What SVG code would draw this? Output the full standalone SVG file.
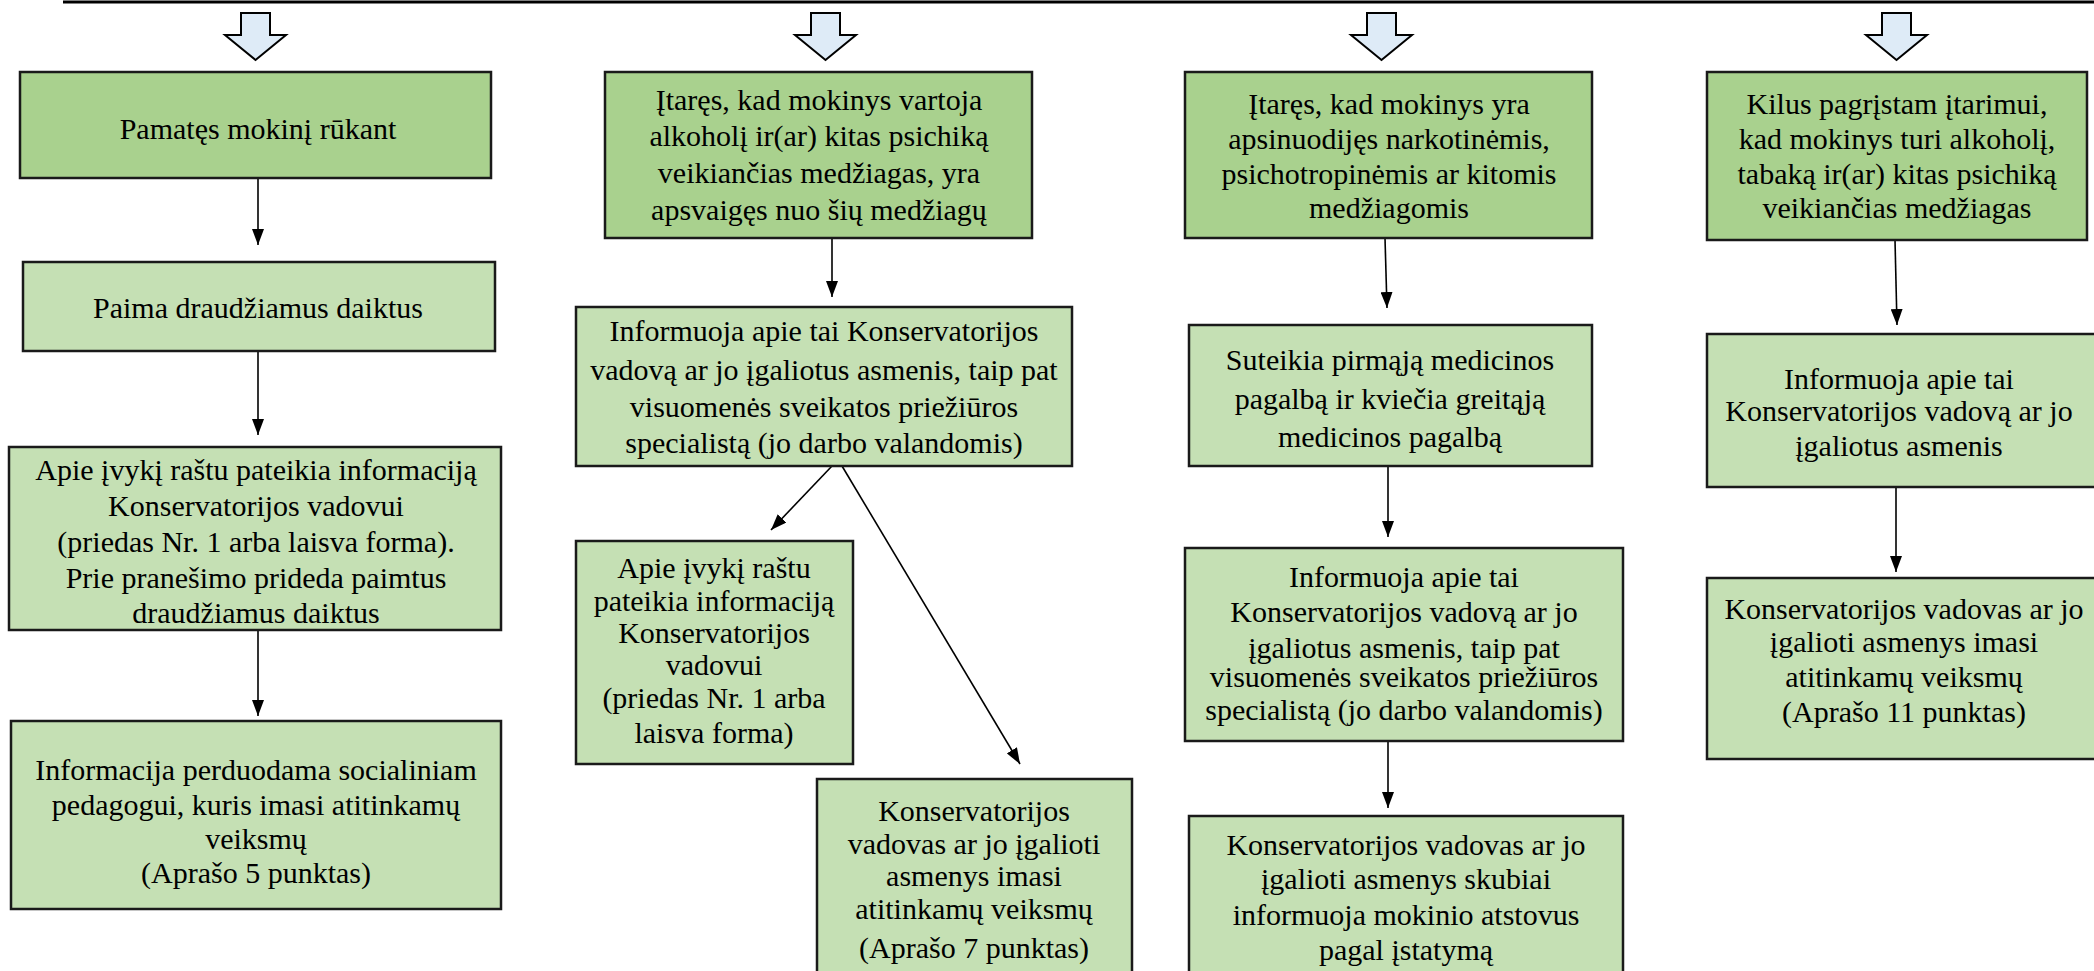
<svg xmlns="http://www.w3.org/2000/svg" width="2094" height="971" viewBox="0 0 2094 971">
<style>
.dark{fill:#a9d18e;stroke:#1a1a1a;stroke-width:2.5}
.light{fill:#c5e0b4;stroke:#1a1a1a;stroke-width:2.5}
.blk{fill:#deebf7;stroke:#000;stroke-width:2;stroke-linejoin:miter}
.t{font-family:'Liberation Serif','DejaVu Serif',serif;font-size:30px;fill:#000;text-anchor:middle}
.conn line{stroke:#000;stroke-width:1.6;fill:none}
</style>
<defs>
<marker id="ah" viewBox="0 0 16 12" refX="16" refY="6" markerWidth="16" markerHeight="12" markerUnits="userSpaceOnUse" orient="auto">
<path d="M0,0 L16,6 L0,12 Z" fill="#000"/>
</marker>
</defs>
<rect width="2094" height="971" fill="#fff"/>
<line x1="63" y1="2" x2="2094" y2="2" stroke="#000" stroke-width="3"/>
<g id="blockarrows">
<polygon class="blk" points="241,13 270,13 270,35 286,35 255.5,60 225,35 241,35"/>
<polygon class="blk" points="811,13 840,13 840,35 856,35 825.5,60 795,35 811,35"/>
<polygon class="blk" points="1367,13 1396,13 1396,35 1412,35 1381.5,60 1351,35 1367,35"/>
<polygon class="blk" points="1882,13 1911,13 1911,35 1927,35 1896.5,60 1866,35 1882,35"/>
</g>
<g class="conn">
<line x1="258" y1="179" x2="258" y2="245" marker-end="url(#ah)"/>
<line x1="258" y1="351" x2="258" y2="435" marker-end="url(#ah)"/>
<line x1="258" y1="631" x2="258" y2="716" marker-end="url(#ah)"/>
<line x1="832" y1="239" x2="832" y2="297" marker-end="url(#ah)"/>
<line x1="832" y1="466" x2="771" y2="530" marker-end="url(#ah)"/>
<line x1="842" y1="466" x2="1020" y2="764" marker-end="url(#ah)"/>
<line x1="1385" y1="238" x2="1387" y2="308" marker-end="url(#ah)"/>
<line x1="1388" y1="466" x2="1388" y2="537" marker-end="url(#ah)"/>
<line x1="1388" y1="741" x2="1388" y2="808" marker-end="url(#ah)"/>
<line x1="1895" y1="240" x2="1897" y2="325" marker-end="url(#ah)"/>
<line x1="1896" y1="487" x2="1896" y2="572" marker-end="url(#ah)"/>
</g>
<g font-family="Liberation Serif, DejaVu Serif, serif">
<g id="A1">
<rect class="dark" x="20" y="72" width="471" height="106"/>
<text class="t" x="258" y="139">Pamatęs mokinį rūkant</text>
</g>
<g id="A2">
<rect class="light" x="23" y="262" width="472" height="89"/>
<text class="t" x="258" y="318">Paima draudžiamus daiktus</text>
</g>
<g id="A3">
<rect class="light" x="9" y="447" width="492" height="183"/>
<text class="t" x="256"><tspan x="256" y="480">Apie įvykį raštu pateikia informaciją</tspan><tspan x="256" y="516">Konservatorijos vadovui</tspan><tspan x="256" y="552">(priedas Nr. 1 arba  laisva forma).</tspan><tspan x="256" y="588">Prie pranešimo prideda paimtus</tspan><tspan x="256" y="623">draudžiamus daiktus</tspan></text>
</g>
<g id="A4">
<rect class="light" x="11" y="721" width="490" height="188"/>
<text class="t" x="256"><tspan x="256" y="780">Informacija perduodama socialiniam</tspan><tspan x="256" y="815">pedagogui, kuris imasi atitinkamų</tspan><tspan x="256" y="849">veiksmų</tspan><tspan x="256" y="883">(Aprašo 5 punktas)</tspan></text>
</g>
<g id="B1">
<rect class="dark" x="605" y="72" width="427" height="166"/>
<text class="t" x="819"><tspan x="819" y="110">Įtaręs, kad mokinys vartoja</tspan><tspan x="819" y="146">alkoholį ir(ar) kitas psichiką</tspan><tspan x="819" y="183">veikiančias medžiagas, yra</tspan><tspan x="819" y="220">apsvaigęs nuo šių medžiagų</tspan></text>
</g>
<g id="B2">
<rect class="light" x="576" y="307" width="496" height="159"/>
<text class="t" x="824"><tspan x="824" y="341">Informuoja apie tai Konservatorijos</tspan><tspan x="824" y="380">vadovą ar jo įgaliotus asmenis, taip pat</tspan><tspan x="824" y="417">visuomenės sveikatos priežiūros</tspan><tspan x="824" y="453">specialistą (jo darbo valandomis)</tspan></text>
</g>
<g id="B3">
<rect class="light" x="576" y="541" width="277" height="223"/>
<text class="t" x="714"><tspan x="714" y="578">Apie įvykį raštu</tspan><tspan x="714" y="611">pateikia informaciją</tspan><tspan x="714" y="643">Konservatorijos</tspan><tspan x="714" y="675">vadovui</tspan><tspan x="714" y="708">(priedas Nr. 1 arba</tspan><tspan x="714" y="743">laisva forma)</tspan></text>
</g>
<g id="B4">
<rect class="light" x="817" y="779" width="315" height="200"/>
<text class="t" x="974"><tspan x="974" y="821">Konservatorijos</tspan><tspan x="974" y="854">vadovas ar jo įgalioti</tspan><tspan x="974" y="886">asmenys imasi</tspan><tspan x="974" y="919">atitinkamų veiksmų</tspan><tspan x="974" y="958">(Aprašo 7 punktas)</tspan></text>
</g>
<g id="C1">
<rect class="dark" x="1185" y="72" width="407" height="166"/>
<text class="t" x="1389"><tspan x="1389" y="114">Įtaręs, kad mokinys yra</tspan><tspan x="1389" y="149">apsinuodijęs narkotinėmis,</tspan><tspan x="1389" y="184">psichotropinėmis ar kitomis</tspan><tspan x="1389" y="218">medžiagomis</tspan></text>
</g>
<g id="C2">
<rect class="light" x="1189" y="325" width="403" height="141"/>
<text class="t" x="1390"><tspan x="1390" y="370">Suteikia pirmąją medicinos</tspan><tspan x="1390" y="409">pagalbą ir kviečia greitąją</tspan><tspan x="1390" y="447">medicinos pagalbą</tspan></text>
</g>
<g id="C3">
<rect class="light" x="1185" y="548" width="438" height="193"/>
<text class="t" x="1404"><tspan x="1404" y="587">Informuoja apie tai</tspan><tspan x="1404" y="622">Konservatorijos vadovą ar jo</tspan><tspan x="1404" y="658">įgaliotus asmenis, taip pat</tspan><tspan x="1404" y="687">visuomenės sveikatos priežiūros</tspan><tspan x="1404" y="720">specialistą (jo darbo valandomis)</tspan></text>
</g>
<g id="C4">
<rect class="light" x="1189" y="816" width="434" height="165"/>
<text class="t" x="1406"><tspan x="1406" y="855">Konservatorijos vadovas ar jo</tspan><tspan x="1406" y="889">įgalioti asmenys skubiai</tspan><tspan x="1406" y="925">informuoja mokinio atstovus</tspan><tspan x="1406" y="960">pagal įstatymą</tspan></text>
</g>
<g id="D1">
<rect class="dark" x="1707" y="72" width="380" height="168"/>
<text class="t" x="1897"><tspan x="1897" y="114">Kilus pagrįstam įtarimui,</tspan><tspan x="1897" y="149">kad mokinys turi alkoholį,</tspan><tspan x="1897" y="184">tabaką ir(ar) kitas psichiką</tspan><tspan x="1897" y="218">veikiančias medžiagas</tspan></text>
</g>
<g id="D2">
<rect class="light" x="1707" y="334" width="400" height="153"/>
<text class="t" x="1899"><tspan x="1899" y="389">Informuoja apie tai</tspan><tspan x="1899" y="421">Konservatorijos vadovą ar jo</tspan><tspan x="1899" y="456">įgaliotus asmenis</tspan></text>
</g>
<g id="D3">
<rect class="light" x="1707" y="578" width="400" height="181"/>
<text class="t" x="1904"><tspan x="1904" y="619">Konservatorijos vadovas ar jo</tspan><tspan x="1904" y="652">įgalioti asmenys imasi</tspan><tspan x="1904" y="687">atitinkamų veiksmų</tspan><tspan x="1904" y="722">(Aprašo 11 punktas)</tspan></text>
</g>
</g>
</svg>
